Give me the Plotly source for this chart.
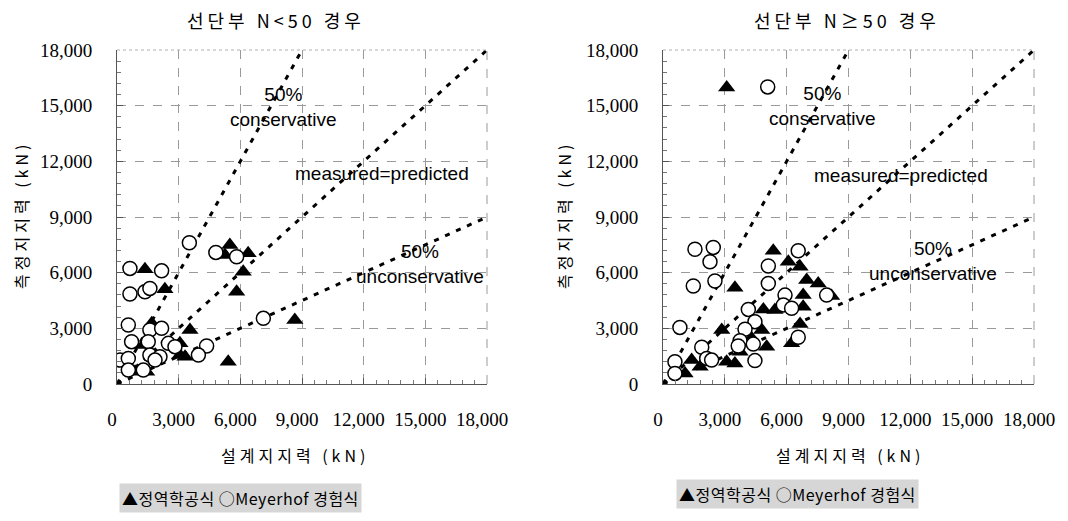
import plotly.graph_objects as go

# ---- data (kN) ----
# left panel: N < 50
L_tri_x = [5490, 5250, 6380, 6140, 5820, 1360, 2330, 3550, 8650, 5410, 3060, 3060, 3310, 1690, 1280, 880, 1440]
L_tri_y = [7490, 6950, 7040, 6050, 4970, 6180, 5100, 2910, 3450, 1200, 2190, 1560, 1470, 3270, 2100, 660, 660]
L_cir_x = [630, 2170, 630, 1360, 1600, 3520, 4810, 5820, 7120, 550, 1600, 2170, 710, 1520, 2500, 2820, 4360, 3960, 1600, 2090, 150, 550, 550, 1280, 1850]
L_cir_y = [6230, 6100, 4850, 4970, 5150, 7610, 7090, 6860, 3540, 3180, 2910, 3000, 2280, 2280, 2190, 2010, 2050, 1560, 1560, 1470, 1290, 1380, 750, 750, 1290]

# right panel: N >= 50
R_tri_x = [3090, 5350, 6080, 6650, 3490, 6970, 7530, 8180, 6800, 6800, 4870, 5430, 6650, 2850, 4790, 4300, 5030, 6240, 3740, 3090, 3490, 1390, 1800, 1070]
R_tri_y = [15980, 7180, 6590, 6320, 5190, 5600, 5420, 4740, 4790, 4160, 4020, 3990, 3230, 2910, 2910, 2460, 2010, 2190, 1740, 1200, 1110, 1290, 930, 570]
R_cir_x = [5080, 1550, 2440, 2280, 1470, 2520, 6560, 5110, 5110, 5920, 5840, 6240, 7940, 4140, 4460, 3980, 3740, 4380, 3650, 6560, 4460, 820, 1880, 2120, 2360, 580, 580]
R_cir_y = [16010, 7260, 7360, 6590, 5280, 5550, 7180, 6360, 5420, 4790, 4260, 4080, 4790, 4020, 3360, 2950, 2330, 2150, 2050, 2520, 1260, 3050, 1980, 1380, 1290, 1200, 570]

ticks = [0, 3000, 6000, 9000, 12000, 15000, 18000]
AX_MAX = 18000

W, H = 1068, 521
fig = go.Figure()

def ref_lines(xa, ya):
    for xs, ys in [([0, AX_MAX / 2], [0, AX_MAX]),
                   ([0, AX_MAX], [0, AX_MAX]),
                   ([0, AX_MAX], [0, AX_MAX / 2])]:
        fig.add_trace(go.Scatter(x=xs, y=ys, mode="lines", xaxis=xa, yaxis=ya,
                                 line=dict(color="black", width=3, dash="5px,7px"),
                                 showlegend=False, hoverinfo="skip"))

def points(tx, ty, cx, cy, xa, ya):
    fig.add_trace(go.Scatter(x=tx, y=ty, mode="markers", xaxis=xa, yaxis=ya,
                             marker=dict(symbol="triangle-up", size=15, color="black",
                                         line=dict(width=0)),
                             showlegend=False))
    fig.add_trace(go.Scatter(x=cx, y=cy, mode="markers", xaxis=xa, yaxis=ya,
                             marker=dict(symbol="circle", size=14, color="white",
                                         line=dict(color="black", width=1.5)),
                             showlegend=False))

ref_lines("x", "y")
points(L_tri_x, L_tri_y, L_cir_x, L_cir_y, "x", "y")
ref_lines("x2", "y2")
points(R_tri_x, R_tri_y, R_cir_x, R_cir_y, "x2", "y2")

tickfont = dict(family="Liberation Serif", size=19, color="black")
axis_common = dict(range=[0, AX_MAX], tickvals=ticks, tickformat=",", tickfont=tickfont,
                   showgrid=True, gridcolor="#9a9a9a", griddash="dash", gridwidth=1,
                   showline=True, linecolor="#555", linewidth=1, mirror=False,
                   ticks="inside", ticklen=6, tickcolor="#555", zeroline=False,
                   minor=dict(dtick=600, ticks="inside", ticklen=4, tickcolor="#777"),
                   fixedrange=True, automargin=False)

ydom = [137 / H, 471 / H]
fig.update_layout(
    width=W, height=H, margin=dict(l=0, r=0, t=0, b=0, autoexpand=False),
    paper_bgcolor="white", plot_bgcolor="white",
    xaxis=dict(domain=[117 / W, 487 / W], anchor="y", ticklabelstandoff=18, ticklabelshift=-5, **axis_common),
    yaxis=dict(domain=ydom, anchor="x", ticklabelstandoff=20, **axis_common),
    xaxis2=dict(domain=[663 / W, 1034 / W], anchor="y2", ticklabelstandoff=18, ticklabelshift=-5, **axis_common),
    yaxis2=dict(domain=ydom, anchor="x2", ticklabelstandoff=20, **axis_common),
    showlegend=False,
)

# top / right borders (light)
for xr, yr in [("x domain", "y domain"), ("x2 domain", "y2 domain")]:
    fig.add_shape(type="line", xref=xr, yref=yr, x0=0, x1=1, y0=1, y1=1,
                  line=dict(color="#b0b0b0", width=1, dash="dot"))
    fig.add_shape(type="line", xref=xr, yref=yr, x0=1, x1=1, y0=0, y1=1,
                  line=dict(color="#9a9a9a", width=1, dash="dash"))

kfont = dict(family="Noto Sans CJK KR", size=16, color="black")
tfont = dict(family="Noto Sans CJK KR", size=18, color="black")
sfont = dict(family="Liberation Sans", size=19, color="black")

def sp(text, px):
    return f'<span style="letter-spacing:{px}px">{text}</span>'

def pa(text, px, py, font, **kw):
    d = dict(text=text, x=px / W, y=1 - py / H, xref="paper", yref="paper",
             showarrow=False, font=font, xanchor="center", yanchor="middle")
    d.update(kw)
    return d

ann = []
# titles
ann.append(pa(sp("선단부 N<50 경우", 4), 276, 20, tfont))
ann.append(pa(sp("선단부 N≥50 경우", 4), 847, 20, tfont))
# axis titles
for cx in [295, 850]:
    ann.append(pa(sp("설계지지력 (kN)", 4), cx, 455, kfont))
for cx in [21, 564]:
    ann.append(pa(sp("측정지지력 (kN)", 4), cx, 215, kfont, textangle=-90))
# line labels
ann += [
    pa("50%<br>conservative", 283, 107, sfont),
    pa("measured=predicted", 293, 174, sfont, xanchor="left"),
    pa("50%<br>unconservative", 420, 264, sfont),
    pa("50%<br>conservative", 822, 106, sfont),
    pa("measured=predicted", 812, 175, sfont, xanchor="left"),
    pa("50%<br>unconservative", 933, 261, sfont),
]
# legend boxes
for cx, cy in [(240, 498), (797, 494)]:
    ann.append(pa(sp("▲정역학공식 ○Meyerhof 경험식", 0.5), cx, cy, kfont,
                  bgcolor="#d6d6d6", borderpad=2))
fig.update_layout(annotations=ann)

fig.write_html("out.html")
